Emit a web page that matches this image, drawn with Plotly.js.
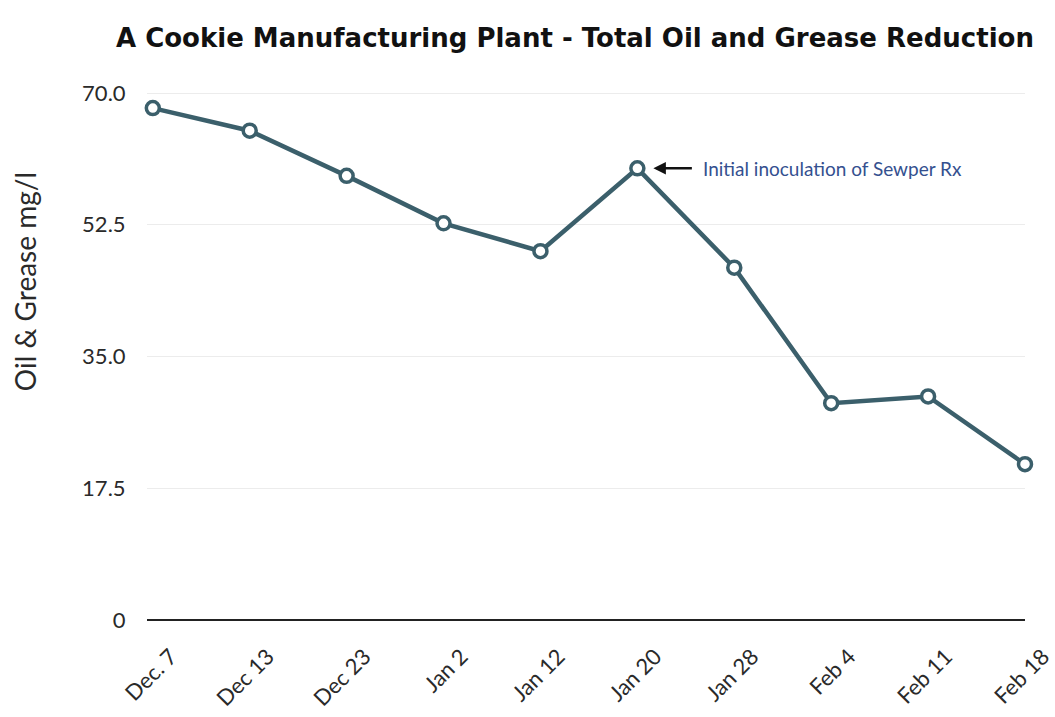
<!DOCTYPE html>
<html>
<head>
<meta charset="utf-8">
<script src="https://cdn.plot.ly/plotly-3.0.1.min.js"></script>
<style>html,body{margin:0;padding:0;background:#fff;}#chart{width:1055px;height:717px;}</style>
</head>
<body>
<div id="chart"></div>
<script>
const dates = ["Dec. 7", "Dec 13", "Dec 23", "Jan 2", "Jan 12", "Jan 20", "Jan 28", "Feb 4", "Feb 11", "Feb 18"];
const oilGrease = [68.0, 65.0, 59.0, 52.7, 49.0, 60.0, 46.8, 28.8, 29.7, 20.7];
const yTickVals = [0, 17.5, 35, 52.5, 70];
const yTickText = ["0", "17.5", "35.0", "52.5", "70.0"];
const noteDate = "Jan 20";
const noteValue = 60.0;
const noteText = "Initial inoculation of Sewper Rx";

const lineColor = "#3b5f6b";

const trace = {
  x: dates,
  y: oilGrease,
  type: "scatter",
  mode: "lines+markers",
  line: {color: lineColor, width: 4.5},
  marker: {size: 13, color: "#ffffff", line: {color: lineColor, width: 3.5}},
  cliponaxis: false,
  hoverinfo: "x+y"
};

const layout = {
  width: 1055,
  height: 717,
  paper_bgcolor: "#ffffff",
  plot_bgcolor: "#ffffff",
  showlegend: false,
  margin: {l: 147, r: 30, t: 78, b: 97},
  title: {
    text: "<b>A Cookie Manufacturing Plant - Total Oil and Grease Reduction</b>",
    font: {family: "DejaVu Sans, sans-serif", size: 26, color: "#111111"},
    x: 0.545, xanchor: "center", y: 0.947, yanchor: "middle"
  },
  xaxis: {
    type: "category",
    range: [-0.06, 9.0],
    showgrid: false,
    zeroline: false,
    showline: false,
    tickangle: -45,
    ticks: "outside",
    ticklen: 14,
    tickcolor: "rgba(0,0,0,0)",
    ticklabelshift: 18,
    tickfont: {family: "Lato, sans-serif", size: 22, color: "#2a2a2a"},
    automargin: false
  },
  yaxis: {
    range: [0, 72],
    tickvals: yTickVals,
    ticktext: yTickText,
    showgrid: true,
    gridcolor: "#ececec",
    gridwidth: 1,
    zeroline: true,
    zerolinecolor: "#222222",
    zerolinewidth: 1.5,
    showline: false,
    ticks: "outside",
    ticklen: 16,
    tickcolor: "rgba(0,0,0,0)",
    tickfont: {family: "Lato, sans-serif", size: 22, color: "#2a2a2a"},
    automargin: false
  },
  annotations: [
    {
      xref: "paper", yref: "paper",
      x: -0.139, y: 0.625,
      xanchor: "center", yanchor: "middle",
      text: "Oil & Grease mg/l",
      textangle: -90,
      showarrow: false,
      font: {family: "Lato, sans-serif", size: 28, color: "#2a2a2a"}
    },
    {
      x: noteDate, y: noteValue,
      text: "",
      showarrow: true,
      arrowhead: 2,
      arrowsize: 1,
      arrowwidth: 2.5,
      arrowcolor: "#111111",
      ax: 56, ay: 0,
      standoff: 16
    },
    {
      x: noteDate, y: noteValue,
      text: noteText,
      showarrow: false,
      xanchor: "left",
      yanchor: "middle",
      xshift: 64,
      font: {family: "Lato, sans-serif", size: 19, color: "#34508f"}
    }
  ]
};

Plotly.newPlot("chart", [trace], layout, {displayModeBar: false, responsive: false});
</script>
</body>
</html>
